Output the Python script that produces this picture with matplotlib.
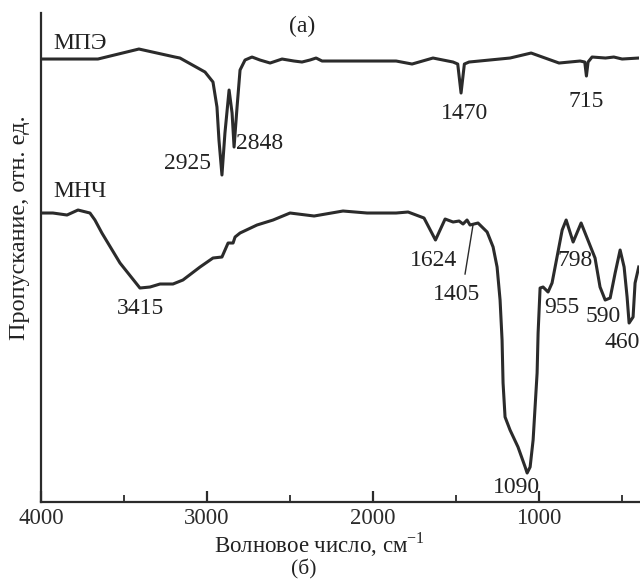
import matplotlib
matplotlib.use('Agg')
import matplotlib.pyplot as plt
from matplotlib.ticker import MultipleLocator

plt.rcParams['font.family'] = ['Liberation Serif', 'DejaVu Serif']
plt.rcParams['mathtext.fontset'] = 'custom'
plt.rcParams['mathtext.rm'] = 'Liberation Serif'

# ИК-спектр МПЭ (волновое число, пропускание в отн. ед.)
mpe_wn = [3995, 3657, 3410, 3193, 3163, 3012, 2964, 2940, 2928, 2910, 2892, 2867,
          2849, 2837, 2819, 2801, 2771, 2729, 2681, 2620, 2548, 2476, 2428, 2380,
          2343, 2307, 1861, 1765, 1639, 1518, 1490, 1470, 1450, 1422, 1175, 1048,
          880, 753, 725, 715, 705, 681, 600, 550, 500, 400]
mpe_t = [443, 443, 453, 445, 444, 430, 420, 395, 362, 327, 369, 412,
         389, 355, 395, 432, 442, 445, 442, 439, 443, 441, 440, 442,
         444, 441, 441, 438, 444, 440, 438, 409, 438, 440, 444, 449,
         439, 441, 440, 426, 440, 445, 444, 445, 443, 444]

# ИК-спектр МНЧ
mnch_wn = [3995, 3928, 3843, 3777, 3705, 3675, 3633, 3524, 3404, 3343, 3283, 3205,
           3145, 3042, 2964, 2910, 2873, 2843, 2831, 2801, 2699, 2602, 2500, 2355,
           2181, 2036, 1861, 1789, 1693, 1624, 1566, 1518, 1482, 1458, 1434, 1416,
           1368, 1313, 1277, 1253, 1235, 1223, 1217, 1205, 1175, 1127, 1084, 1072,
           1054, 1036, 1012, 1006, 994, 976, 946, 922, 892, 861, 837, 795, 747, 711,
           663, 633, 602, 572, 542, 512, 488, 470, 458, 434, 422, 400]
mnch_t = [289, 289, 287, 292, 289, 282, 269, 239, 214, 215, 218, 218,
          222, 235, 244, 245, 259, 259, 265, 269, 277, 282, 289, 286,
          291, 289, 289, 290, 284, 262, 283, 280, 281, 278, 282, 277,
          279, 270, 255, 235, 202, 162, 119, 85, 72, 55, 35, 29,
          35, 62, 129, 169, 214, 215, 210, 219, 245, 272, 282, 260, 279, 264,
          244, 215, 202, 204, 229, 252, 235, 205, 179, 185, 219, 235]

peak_labels = ['(a)', 'МПЭ', '2925', '2848', '1470', '715', 'МНЧ', '3415', '1624',
               '1405', '798', '955', '590', '460', '1090']
peak_wn = [2428, 3928, 3115, 2681, 1446, 717, 3928, 3398, 1633, 1500, 783, 861, 614, 500, 1139]
peak_t = [476, 459, 339, 359, 389, 401, 311, 194, 242, 208, 242, 195, 186, 160, 14]

fig = plt.figure(figsize=(6.4, 5.79), dpi=100)
ax = fig.add_axes([0.064, 0.133, 0.934, 0.8445])

col = '#2b2b2b'
ax.plot(mpe_wn, mpe_t, color=col, lw=2.2, solid_joinstyle='round')
ax.plot(mnch_wn, mnch_t, color=col, lw=2.2, solid_joinstyle='round')

for lab, w, t in zip(peak_labels, peak_wn, peak_t):
    ha = 'left' if lab in ('МПЭ', 'МНЧ') else 'center'
    ax.text(w, t, lab, ha=ha, va='center', fontsize=17, color='#222222')

# выноска для 1405
ax.plot([1446, 1398], [228, 277], color=col, lw=1)

ax.set_xlim(4000, 400)
ax.set_ylim(0, 489)
ax.spines['top'].set_visible(False)
ax.spines['right'].set_visible(False)
ax.spines['left'].set_linewidth(1.6)
ax.spines['bottom'].set_linewidth(1.6)
ax.spines['left'].set_color(col)
ax.spines['bottom'].set_color(col)
ax.set_yticks([])
ax.xaxis.set_major_locator(MultipleLocator(1000))
ax.xaxis.set_minor_locator(MultipleLocator(500))
ax.tick_params(axis='x', which='major', direction='in', length=8, width=1.6,
               labelsize=16.5, pad=4, colors=col)
ax.tick_params(axis='x', which='minor', direction='in', length=5, width=1.3, colors=col)
ax.set_xticks([4000, 3000, 2000, 1000])

fig.text(320 / 640, 1 - 545 / 579, 'Волновое число, см$^{-1}$', ha='center', va='center',
         fontsize=16.5, color='#222222')
fig.text(304 / 640, 1 - 569 / 579, '(б)', ha='center', va='center', fontsize=15.5, color='#222222')
fig.text(20 / 640, 1 - 228 / 579, 'Пропускание, отн. ед.', ha='center', va='center',
         rotation=90, fontsize=17.5, color='#222222')

fig.savefig('out.png', dpi=100)
